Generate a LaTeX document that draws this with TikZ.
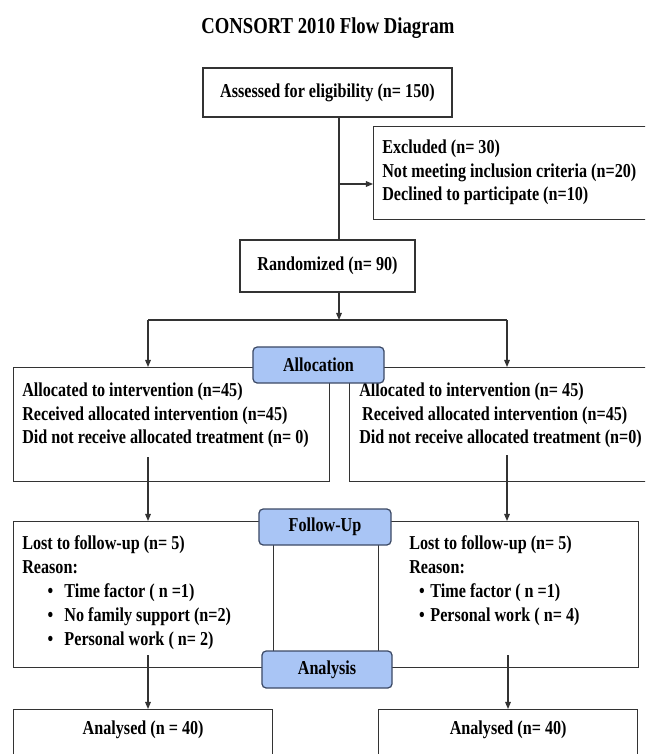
\documentclass[tikz,border=0pt]{standalone}
\usepackage{fontspec}
\setmainfont{Liberation Serif}[FakeStretch=0.82]
\usepackage{tikz}
\usetikzlibrary{arrows.meta, positioning}

\definecolor{bleuetape}{HTML}{A9C5F5}
\definecolor{bordetape}{HTML}{3C4A66}
\definecolor{trait}{HTML}{333333}
\newcommand{\puce}[2]{\hspace*{#1}\textbullet\hspace{#2}}

\begin{document}
\begin{tikzpicture}[x=0.025cm, y=-0.025cm,
    font=\bfseries\fontsize{14}{17}\selectfont,
    boite/.style={draw=trait, line width=0.9pt, rectangle, inner sep=0pt},
    texte/.style={align=left, inner sep=0pt},
    etape/.style={draw=bordetape, fill=bleuetape, line width=0.9pt, rounded corners=3pt},
    fleche/.style={draw=trait, line width=0.8pt, -{Triangle[length=5pt, width=4pt]}},
    lien/.style={draw=trait, line width=0.8pt}]
    % Cadre de l'image
    \clip (0,0) rectangle (645,754);

    % Titre
    \node[font=\bfseries\fontsize{16.2}{19}\selectfont] (titre) at (328,28) {CONSORT 2010 Flow Diagram};

    % Eligibilite et exclusion
    \node[boite, minimum width=6.225cm, minimum height=1.225cm] (eligible) at (327.5,92.5) {Assessed for eligibility (n= 150)};
    \node[boite, anchor=north west, minimum width=7.25cm, minimum height=2.325cm] (exclus) at (373,126) {};
    \node[texte, below right=0.33cm and 0.225cm of exclus.north west] (exclustxt) {Excluded (n= 30)\\Not meeting inclusion criteria (n=20)\\Declined to participate (n=10)};
    \node[boite, minimum width=4.375cm, minimum height=1.3cm] (hasard) at (327.5,266) {Randomized (n= 90)};

    % Points de passage des traits
    \coordinate (tronc) at (339,0);
    \coordinate (entree) at (373,184);
    \coordinate (partage) at (339,320);
    \coordinate (brancheG) at (148,320);
    \coordinate (brancheD) at (507,320);

    \draw[lien] (eligible.south -| tronc) -- (hasard.north -| tronc);
    \draw[fleche] (tronc |- entree) -- (entree);
    \draw[fleche] (hasard.south -| tronc) -- (partage);
    \draw[lien] (brancheG) -- (brancheD);

    % Allocation
    \node[boite, anchor=north west, minimum width=7.9cm, minimum height=2.85cm] (allocG) at (13,367) {};
    \node[boite, anchor=north west, minimum width=7.775cm, minimum height=2.85cm] (allocD) at (349,367) {};
    \draw[fleche] (brancheG) -- (allocG.north -| brancheG);
    \draw[fleche] (brancheD) -- (allocD.north -| brancheD);
    \node[texte, below right=0.38cm and 0.225cm of allocG.north west] (allocGtxt) {Allocated to intervention (n=45)\\Received allocated intervention (n=45)\\Did not receive allocated treatment (n= 0)};
    \node[texte, below right=0.38cm and 0.25cm of allocD.north west] (allocDtxt) {Allocated to intervention (n= 45)\\\hspace*{2pt}Received allocated intervention (n=45)\\Did not receive allocated treatment (n=0)};
    \node[etape, minimum width=3.275cm, minimum height=0.9cm] (allocation) at (318.5,365) {Allocation};

    % Suivi
    \coordinate (departG) at (148,457);
    \coordinate (departD) at (507,455);
    \node[boite, anchor=north west, minimum width=6.5cm, minimum height=3.65cm] (suiviG) at (13,521) {};
    \node[boite, anchor=north west, minimum width=6.5cm, minimum height=3.65cm] (suiviD) at (378,521) {};
    \draw[fleche] (departG) -- (suiviG.north -| departG);
    \draw[fleche] (departD) -- (suiviD.north -| departD);
    \node[texte, below right=0.37cm and 0.225cm of suiviG.north west] (suiviGtxt) {Lost to follow-up (n= 5)\\Reason:\\\puce{18pt}{8pt}Time factor ( n =1)\\\puce{18pt}{8pt}No family support (n=2)\\\puce{18pt}{8pt}Personal work ( n= 2)};
    \node[texte, below right=0.37cm and 0.775cm of suiviD.north west] (suiviDtxt) {Lost to follow-up (n= 5)\\Reason:\\\puce{7pt}{4pt}Time factor ( n =1)\\\puce{7pt}{4pt}Personal work ( n= 4)};
    \node[etape, minimum width=3.3cm, minimum height=0.9cm] (suivi) at (325,527) {Follow-Up};

    % Analyse
    \coordinate (finG) at (148,655);
    \coordinate (finD) at (508,655);
    \node[boite, anchor=north west, minimum width=6.475cm, minimum height=1.5cm] (analyseG) at (13,709) {};
    \node[boite, anchor=north west, minimum width=6.475cm, minimum height=1.5cm] (analyseD) at (378,709) {};
    \draw[fleche] (finG) -- (analyseG.north -| finG);
    \draw[fleche] (finD) -- (analyseD.north -| finD);
    \node[texte, below=0.3cm of analyseG.north] (analyseGtxt) {Analysed (n = 40)};
    \node[texte, below=0.3cm of analyseD.north] (analyseDtxt) {Analysed (n= 40)};
    \node[etape, minimum width=3.25cm, minimum height=0.925cm] (analyse) at (327,669.5) {Analysis};
\end{tikzpicture}
\end{document}
